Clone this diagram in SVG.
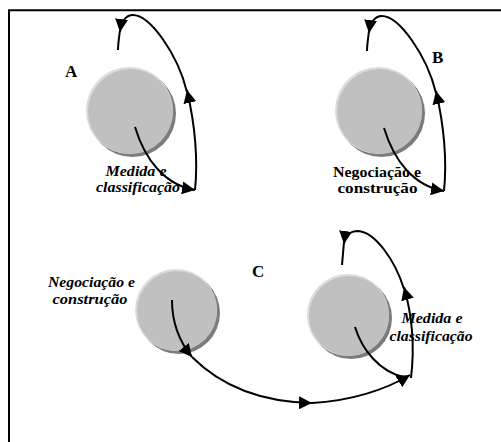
<svg xmlns="http://www.w3.org/2000/svg" width="501" height="442" viewBox="0 0 501 442">
<style>
.frame{fill:none;stroke:#000;stroke-width:2}
.sh{fill:#7c7c7c}
.hl{fill:#dcdcdc}
.bd{fill:#c0c0c0}
.lbl{font-family:"Liberation Serif","Times New Roman",serif;font-size:17px;font-weight:bold;fill:#000}
.t{font-family:"Liberation Serif","Times New Roman",serif;font-size:14px;font-weight:bold;fill:#000;text-anchor:middle}
.it{font-style:italic}
.c{fill:none;stroke:#000;stroke-width:2}
.a{marker-end:url(#ah)}
</style>
<defs>
<marker id="ah" markerUnits="userSpaceOnUse" markerWidth="14" markerHeight="13" refX="13" refY="6.5" orient="auto" viewBox="0 0 14 13">
<path d="M0,0 L13,6.5 L0,13 z" fill="#000"/>
</marker>
</defs>
<path class="frame" d="M9,442 V10.3 H501"/>
<g id="nodeA">
<circle class="sh" cx="132.5" cy="113.5" r="43.5"/>
<circle class="hl" cx="129.5" cy="110.5" r="43.5"/>
<circle class="bd" cx="130.5" cy="111.5" r="42.5"/>
<text class="lbl" x="65" y="77">A</text>
<text class="t it" x="136" y="176" textLength="61" lengthAdjust="spacingAndGlyphs">Medida e</text>
<text class="t it" x="138" y="192" textLength="84" lengthAdjust="spacingAndGlyphs">classificação</text>
</g>
<g id="nodeB">
<circle class="sh" cx="381.5" cy="113.5" r="43.5"/>
<circle class="hl" cx="378.5" cy="110.5" r="43.5"/>
<circle class="bd" cx="379.5" cy="111.5" r="42.5"/>
<text class="lbl" x="432" y="63">B</text>
<text class="t" x="377" y="177" textLength="88" lengthAdjust="spacingAndGlyphs">Negociação e</text>
<text class="t" x="377.5" y="193" textLength="80" lengthAdjust="spacingAndGlyphs">construção</text>
</g>
<g id="nodeC1">
<circle class="sh" cx="179" cy="313" r="41"/>
<circle class="hl" cx="176" cy="310" r="41"/>
<circle class="bd" cx="177" cy="311" r="40"/>
<text class="t it" x="91.5" y="287" textLength="87" lengthAdjust="spacingAndGlyphs">Negociação e</text>
<text class="t it" x="90" y="304" textLength="75" lengthAdjust="spacingAndGlyphs">construção</text>
</g>
<g id="nodeC2">
<circle class="sh" cx="351" cy="318" r="41"/>
<circle class="hl" cx="348" cy="315" r="41"/>
<circle class="bd" cx="349" cy="316" r="40"/>
<text class="lbl" x="252" y="277">C</text>
<text class="t it" x="432" y="323" textLength="61" lengthAdjust="spacingAndGlyphs">Medida e</text>
<text class="t it" x="431" y="341" textLength="83" lengthAdjust="spacingAndGlyphs">classificação</text>
</g>
<g id="connectors">
<g id="loopA">
<path class="c a" d="M135,127 C145,160 165,185 195,190"/>
<path class="c a" d="M195,190 C198,160 195,125 187,90"/>
<path class="c a" d="M187,92 C178,55 150,14 132,15 C124,16 121,24 120,32"/>
<path class="c" d="M120,30 C119,38 118,44 118,50"/>
</g>
<g id="loopB" transform="translate(249,1)">
<path class="c a" d="M135,127 C145,160 165,185 195,190"/>
<path class="c a" d="M195,190 C198,160 195,125 187,90"/>
<path class="c a" d="M187,92 C178,55 150,14 132,15 C124,16 121,24 120,32"/>
<path class="c" d="M120,30 C119,38 118,44 118,50"/>
</g>
<g id="loopC">
<path class="c a" d="M172,300 C172,320 178,340 192,357"/>
<path class="c a" d="M192,357 C220,385 260,402 312,403"/>
<path class="c a" d="M312,403 C350,401 385,390 410,375"/>
<path class="c" d="M355,327 C362,350 380,372 404,377"/>
<path class="c a" d="M411,378 C415,345 412,315 404,287"/>
<path class="c a" d="M404,289 C395,260 375,232 358,231 C350,231 345,236 344,244"/>
<path class="c" d="M344,242 L342,265"/>
</g>
</g>
</svg>
